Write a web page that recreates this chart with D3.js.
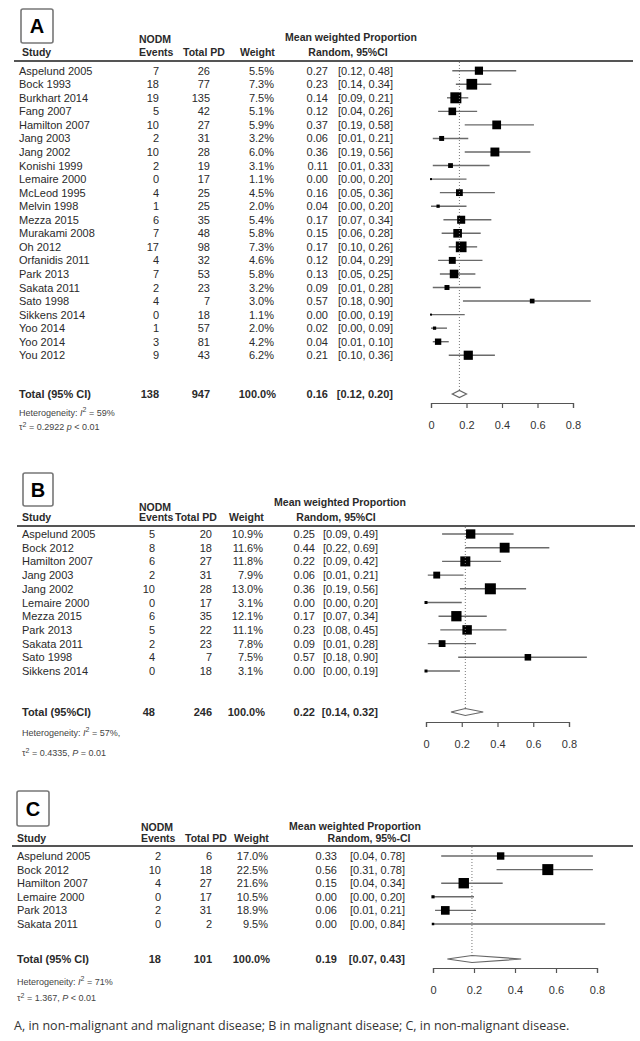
<!DOCTYPE html>
<html>
<head>
<meta charset="utf-8">
<script src="https://cdnjs.cloudflare.com/ajax/libs/d3/7.8.5/d3.min.js"></script>
<style>
  body { margin: 0; background: #fff; }
  svg text { font-family: "Liberation Sans", Arial, sans-serif; fill: #2a2a2a; }
</style>
</head>
<body>
<div id="chart"></div>
<script>
// ---- panel A: non-malignant and malignant disease
const studiesA = ['Aspelund 2005','Bock 1993','Burkhart 2014','Fang 2007','Hamilton 2007','Jang 2003','Jang 2002','Konishi 1999','Lemaire 2000','McLeod 1995','Melvin 1998','Mezza 2015','Murakami 2008','Oh 2012','Orfanidis 2011','Park 2013','Sakata 2011','Sato 1998','Sikkens 2014','Yoo 2014','Yoo 2014','You 2012'];
const eventsA = [7,18,19,5,10,2,10,2,0,4,1,6,7,17,4,7,2,4,0,1,3,9];
const totalA = [26,77,135,42,27,31,28,19,17,25,25,35,48,98,32,53,23,7,18,57,81,43];
const weightA = [5.5,7.3,7.5,5.1,5.9,3.2,6.0,3.1,1.1,4.5,2.0,5.4,5.8,7.3,4.6,5.8,3.2,3.0,1.1,2.0,4.2,6.2];
const estA = [0.27,0.23,0.14,0.12,0.37,0.06,0.36,0.11,0.00,0.16,0.04,0.17,0.15,0.17,0.12,0.13,0.09,0.57,0.00,0.02,0.04,0.21];
const lowA = [0.12,0.14,0.09,0.04,0.19,0.01,0.19,0.01,0.00,0.05,0.00,0.07,0.06,0.10,0.04,0.05,0.01,0.18,0.00,0.00,0.01,0.10];
const highA = [0.48,0.34,0.21,0.26,0.58,0.21,0.56,0.33,0.20,0.36,0.20,0.34,0.28,0.26,0.29,0.25,0.28,0.90,0.19,0.09,0.10,0.36];
const pooledA = [138, 947, 0.16, 0.12, 0.20];

// ---- panel B: malignant disease
const studiesB = ['Aspelund 2005','Bock 2012','Hamilton 2007','Jang 2003','Jang 2002','Lemaire 2000','Mezza 2015','Park 2013','Sakata 2011','Sato 1998','Sikkens 2014'];
const eventsB = [5,8,6,2,10,0,6,5,2,4,0];
const totalB = [20,18,27,31,28,17,35,22,23,7,18];
const weightB = [10.9,11.6,11.8,7.9,13.0,3.1,12.1,11.1,7.8,7.5,3.1];
const estB = [0.25,0.44,0.22,0.06,0.36,0.00,0.17,0.23,0.09,0.57,0.00];
const lowB = [0.09,0.22,0.09,0.01,0.19,0.00,0.07,0.08,0.01,0.18,0.00];
const highB = [0.49,0.69,0.42,0.21,0.56,0.20,0.34,0.45,0.28,0.90,0.19];
const pooledB = [48, 246, 0.22, 0.14, 0.32];

// ---- panel C: non-malignant disease
const studiesC = ['Aspelund 2005','Bock 2012','Hamilton 2007','Lemaire 2000','Park 2013','Sakata 2011'];
const eventsC = [2,10,4,0,2,0];
const totalC = [6,18,27,17,31,2];
const weightC = [17.0,22.5,21.6,10.5,18.9,9.5];
const estC = [0.33,0.56,0.15,0.00,0.06,0.00];
const lowC = [0.04,0.31,0.04,0.00,0.01,0.00];
const highC = [0.78,0.78,0.34,0.20,0.21,0.84];
const pooledC = [18, 101, 0.19, 0.07, 0.43];

const ticks = [0, 0.2, 0.4, 0.6, 0.8];

const svg = d3.select('#chart').append('svg')
  .attr('width', 640).attr('height', 1041);

function drawPanel(p) {
  const g = svg.append('g');
  const n = p.studies.length;
  const x = d3.scaleLinear().domain([0, 0.8]).range(p.xr);
  const size = d3.scaleLinear().domain(d3.extent(p.weight)).range(p.sq);
  const rowY = i => p.y0 + i * p.step;

  // panel letter box
  g.append('rect')
    .attr('x', p.box[0]).attr('y', p.box[1])
    .attr('width', p.box[2]).attr('height', p.box[3])
    .attr('rx', 2).attr('fill', 'none')
    .attr('stroke', '#777').attr('stroke-width', 1.6);
  g.append('text')
    .attr('x', p.box[0] + p.box[2] / 2).attr('y', p.box[1] + p.box[3] / 2 + 7)
    .attr('text-anchor', 'middle').attr('font-weight', 'bold')
    .attr('font-size', 20).style('fill', '#000').text(p.letter);

  // headers
  const hd = (txt, xx, yy, anchor) => g.append('text')
    .attr('x', xx).attr('y', yy + 4).attr('text-anchor', anchor || 'start')
    .attr('font-weight', 'bold').attr('font-size', 10.5).text(txt);
  hd('NODM', p.hx.events, p.hy1);
  hd('Mean weighted Proportion', p.hx.mean, p.hy0, 'middle');
  hd('Study', p.hx.study, p.hy2);
  hd('Events', p.hx.events, p.hy2);
  hd('Total PD', p.hx.total, p.hy2);
  hd('Weight', p.hx.weight, p.hy2);
  hd(p.ciLabel, p.hx.random, p.hy2, 'middle');

  g.append('line')
    .attr('x1', p.rule[0]).attr('x2', p.rule[1])
    .attr('y1', p.rule[2]).attr('y2', p.rule[2])
    .attr('stroke', '#555').attr('stroke-width', 1.8);

  // study rows
  const rows = g.selectAll('g.row').data(d3.range(n)).join('g').attr('class', 'row');
  const cell = (sel, xx, f, anchor) => sel.append('text')
    .attr('x', xx).attr('y', i => rowY(i) + 4)
    .attr('text-anchor', anchor).attr('font-size', 11).text(f);
  cell(rows, p.cx.study, i => p.studies[i], 'start');
  cell(rows, p.cx.events, i => p.events[i], 'end');
  cell(rows, p.cx.total, i => p.total[i], 'end');
  cell(rows, p.cx.weight, i => p.weight[i].toFixed(1) + '%', 'end');
  cell(rows, p.cx.est, i => p.est[i].toFixed(2), 'end');
  cell(rows, p.cx.ci, i => `[${p.low[i].toFixed(2)}, ${p.high[i].toFixed(2)}]`, 'end');

  // pooled reference line
  g.append('line')
    .attr('x1', x(p.pooled[2])).attr('x2', x(p.pooled[2]))
    .attr('y1', p.rule[2] + 1).attr('y2', p.totY - 4)
    .attr('stroke', '#777').attr('stroke-width', 1).attr('stroke-dasharray', '1,2');

  // CIs and squares
  rows.append('line')
    .attr('x1', i => x(p.low[i])).attr('x2', i => x(p.high[i]))
    .attr('y1', rowY).attr('y2', rowY)
    .attr('stroke', '#6a6a6a').attr('stroke-width', 1.4);
  rows.append('rect')
    .attr('x', i => x(p.est[i]) - size(p.weight[i]) / 2)
    .attr('y', i => rowY(i) - size(p.weight[i]) / 2)
    .attr('width', i => size(p.weight[i]))
    .attr('height', i => size(p.weight[i]))
    .attr('fill', '#000');

  // total row
  const tot = (txt, xx, anchor) => g.append('text')
    .attr('x', xx).attr('y', p.totY + 4).attr('text-anchor', anchor)
    .attr('font-weight', 'bold').attr('font-size', 11).text(txt);
  tot(p.totLabel, p.cx.study, 'start');
  tot(p.pooled[0], p.cx.events, 'end');
  tot(p.pooled[1], p.cx.total, 'end');
  tot('100.0%', p.cx.weight + 2, 'end');
  tot(p.pooled[2].toFixed(2), p.cx.est, 'end');
  tot(`[${p.pooled[3].toFixed(2)}, ${p.pooled[4].toFixed(2)}]`, p.cx.ci, 'end');

  const dy = 3.5;
  g.append('polygon')
    .attr('points', [[x(p.pooled[3]), p.totY], [x(p.pooled[2]), p.totY - dy],
      [x(p.pooled[4]), p.totY], [x(p.pooled[2]), p.totY + dy]].join(' '))
    .attr('fill', '#fff').attr('stroke', '#666').attr('stroke-width', 1.2);

  // axis
  const ax = g.append('g').attr('transform', `translate(0,${p.axisY})`)
    .call(d3.axisBottom(x).tickValues(ticks).tickSize(5).tickPadding(13)
      .tickFormat(d => d === 0 ? '0' : d3.format('.1f')(d)));
  ax.select('.domain').attr('stroke', '#555').attr('stroke-width', 1.2);
  ax.selectAll('.tick line').attr('stroke', '#555').attr('stroke-width', 1.2);
  ax.selectAll('.tick text').attr('font-size', 11)
    .attr('font-family', '"Liberation Sans", Arial, sans-serif').style('fill', '#333');

  // heterogeneity
  const h1 = g.append('text').attr('x', p.cx.study).attr('y', p.hetY + 3)
    .attr('font-size', 9).style('fill', '#444');
  h1.append('tspan').text('Heterogeneity:  ');
  h1.append('tspan').attr('font-style', 'italic').text('I');
  h1.append('tspan').attr('font-size', 7).attr('dy', -4).text('2');
  h1.append('tspan').attr('dy', 4).text('  = ' + p.het[0]);
  const h2 = g.append('text').attr('x', p.cx.study).attr('y', p.hetY + p.hetGap + 3)
    .attr('font-size', 9).style('fill', '#444');
  h2.append('tspan').text('\u03c4');
  h2.append('tspan').attr('font-size', 7).attr('dy', -3).text('2');
  h2.append('tspan').attr('dy', 3).text(' = ' + p.het[1] + ' ');
  h2.append('tspan').attr('font-style', 'italic').text(p.het[2]);
  h2.append('tspan').text(' ' + p.het[3]);
}

drawPanel({
  letter: 'A', studies: studiesA, events: eventsA, total: totalA, weight: weightA,
  est: estA, low: lowA, high: highA, pooled: pooledA,
  box: [21, 9, 32, 34], hy0: 37, hy1: 39, hy2: 52, rule: [14, 633, 61],
  hx: { study: 22, events: 139, total: 183, weight: 240, mean: 351, random: 348 },
  ciLabel: 'Random, 95%CI',
  cx: { study: 19, events: 159, total: 210, weight: 274, est: 328, ci: 393 },
  y0: 70.7, step: 13.55, totY: 394, totLabel: 'Total (95% CI)',
  xr: [431, 573], sq: [2, 11], axisY: 403,
  hetY: 413, hetGap: 14, het: ['59%', '0.2922 ', 'p', '< 0.01']
});

drawPanel({
  letter: 'B', studies: studiesB, events: eventsB, total: totalB, weight: weightB,
  est: estB, low: lowB, high: highB, pooled: pooledB,
  box: [23, 473, 30, 33], hy0: 502, hy1: 507, hy2: 517, rule: [17, 635, 526],
  hx: { study: 22, events: 139, total: 175, weight: 229, mean: 340, random: 336 },
  ciLabel: 'Random, 95%CI',
  cx: { study: 22, events: 155, total: 212, weight: 263, est: 315, ci: 378 },
  y0: 534, step: 13.7, totY: 712, totLabel: 'Total (95%CI)',
  xr: [426, 569], sq: [3, 11], axisY: 722,
  hetY: 733, hetGap: 20, het: ['57%,', '0.4335,', 'P', '= 0.01']
});

drawPanel({
  letter: 'C', studies: studiesC, events: eventsC, total: totalC, weight: weightC,
  est: estC, low: lowC, high: highC, pooled: pooledC,
  box: [17, 791, 32, 35], hy0: 826, hy1: 827, hy2: 838, rule: [12, 633, 846],
  hx: { study: 17, events: 141, total: 185, weight: 234, mean: 355, random: 369 },
  ciLabel: 'Random, 95%-CI',
  cx: { study: 17, events: 161, total: 212, weight: 268, est: 337, ci: 405 },
  y0: 856, step: 13.6, totY: 959, totLabel: 'Total (95% CI)',
  xr: [433, 597], sq: [2.5, 11], axisY: 968,
  hetY: 982, hetGap: 16, het: ['71%', '1.367,', 'P', '< 0.01']
});

svg.append('text')
  .attr('x', 14).attr('y', 1030)
  .attr('font-size', 12.5).style('font-family', '"Open Sans", sans-serif').style('fill', '#333')
  .text('A, in non-malignant and malignant disease; B in malignant disease; C, in non-malignant disease.');
</script>
</body>
</html>
